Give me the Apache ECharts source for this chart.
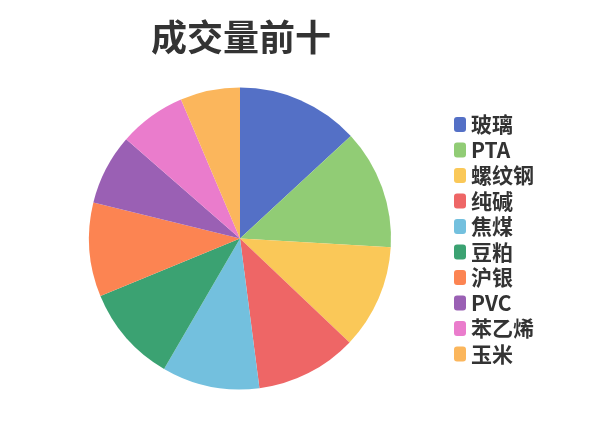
<!DOCTYPE html>
<html><head><meta charset="utf-8">
<script src="https://cdn.jsdelivr.net/npm/echarts@6/dist/echarts.min.js"></script>
<style>html,body{margin:0;padding:0;background:#fff}#c{width:600px;height:428px}</style>
</head><body><div id="c"></div>
<script>
const categories = ['玻璃','PTA','螺纹钢','纯碱','焦煤','豆粕','沪银','PVC','苯乙烯','玉米'];
const values = [472, 461, 402, 391, 376, 374, 362, 273, 259, 230];
const colors = ['#5470c6','#91cc75','#fac858','#ee6666','#73c0de','#3ba272','#fc8452','#9a60b4','#ea7ccc','#fbb65c'];
const titleText = '成交量前十';

const chart = echarts.init(document.getElementById('c'));
chart.setOption({
  color: colors,
  animation: false,
  title: {
    text: titleText,
    left: 151, top: 19, padding: 0,
    textStyle: {fontSize: 36, fontWeight: 'bold', color: '#333', fontFamily: 'Noto Sans CJK SC'}
  },
  legend: {
    orient: 'vertical',
    left: 454, top: 114, padding: 0,
    itemWidth: 12, itemHeight: 15, itemGap: 4.5,
    icon: 'roundRect',
    textStyle: {fontSize: 21, fontWeight: 'bold', color: '#333', fontFamily: 'Noto Sans CJK SC'},
    data: categories
  },
  series: [{
    type: 'pie',
    center: [240, 238.5],
    radius: 151,
    startAngle: 90,
    clockwise: true,
    label: {show: false},
    labelLine: {show: false},
    data: categories.map((n, i) => ({name: n, value: values[i]}))
  }]
});
</script></body></html>
